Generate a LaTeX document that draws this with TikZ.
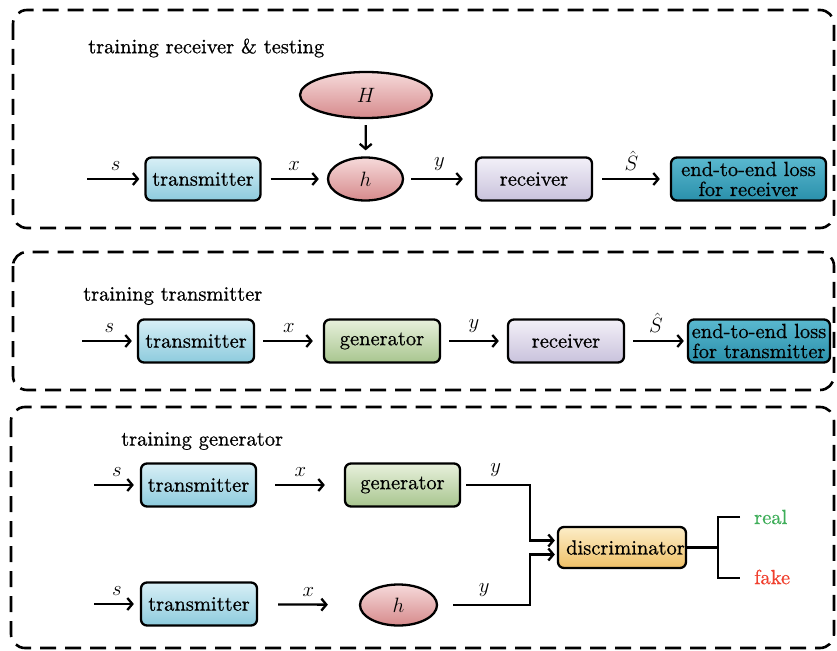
\documentclass[tikz,border=0pt]{standalone}
\usepackage{fontspec}
\setmainfont{lmroman10-regular.otf}[ItalicFont=lmroman10-italic.otf, BoldFont=lmroman10-bold.otf, FakeBold=0.7]
\usetikzlibrary{arrows.meta,shapes.geometric,calc}
\definecolor{txT}{HTML}{D8EFF6}\definecolor{txB}{HTML}{8DCBDD}
\definecolor{rxT}{HTML}{F3F0F8}\definecolor{rxB}{HTML}{C8C2DC}
\definecolor{gnT}{HTML}{E8F0DC}\definecolor{gnB}{HTML}{A8C68F}
\definecolor{elT}{HTML}{F6DADA}\definecolor{elB}{HTML}{D68A8C}
\definecolor{lsT}{HTML}{5AB8CF}\definecolor{lsB}{HTML}{2A90AB}
\definecolor{dsT}{HTML}{FCEDC8}\definecolor{dsB}{HTML}{EFC066}
\definecolor{realc}{HTML}{3FAE5A}\definecolor{fakec}{HTML}{F0402E}
\begin{document}
\begin{tikzpicture}[x=1pt,y=-1pt,
  every node/.style={font=\fontsize{20.5}{20}\selectfont},
  panel/.style={draw, line width=2.6pt, dash pattern=on 16pt off 9pt, rounded corners=14pt},
  box/.style={draw, line width=2.3pt, rounded corners=6pt, minimum height=43pt, inner sep=0pt, align=center},
  txbox/.style={box, minimum width=115pt, top color=txT, bottom color=txB},
  rxbox/.style={box, minimum width=116pt, top color=rxT, bottom color=rxB},
  gnbox/.style={box, minimum width=116pt, top color=gnT, bottom color=gnB},
  lsbox/.style={box, top color=lsT, bottom color=lsB},
  dsbox/.style={box, minimum width=128pt, minimum height=41pt, top color=dsT, bottom color=dsB},
  ell/.style={draw, ellipse, line width=2.3pt, inner sep=0pt, top color=elT, bottom color=elB},
  arr/.style={line width=2.3pt, -{Straight Barb[length=5pt,width=12pt]}},
  wire/.style={line width=2.3pt},
  lab/.style={midway, above=7pt, inner sep=0pt},
  title/.style={anchor=west, inner sep=0pt}
]
\useasboundingbox (0,0) rectangle (837,650);

% panels
\draw[panel] (13,10) rectangle (834,228);
\draw[panel] (13,252) rectangle (834,390);
\draw[panel] (11,407) rectangle (834,648);

% titles
\node[title] (T1) at (88,48) {training receiver \& testing};
\node[title] (T2) at (83,296) {training transmitter};
\node[title] (T3) at (121,441) {training generator};

% ---- row 1
\coordinate (s1) at (87,179);
\node[txbox] (t1) at (203,179) {transmitter};
\node[ell, minimum width=75pt, minimum height=43pt] (h1) at (365.5,179) {$h$};
\node[ell, minimum width=132pt, minimum height=46pt] (H) at (366,95) {$H$};
\node[rxbox] (r1) at (534,179) {receiver};
\node[lsbox, minimum width=155pt] (l1) at (748.5,179) {end-to-end loss\\for receiver};
\draw[arr, shorten >=5pt] (s1) -- node[lab]{$s$} (t1);
\draw[arr, shorten <=9pt, shorten >=8pt] (t1) -- node[lab]{$x$} (h1);
\draw[arr, shorten <=6pt, shorten >=6pt] (H) -- (h1);
\draw[arr, shorten <=7pt, shorten >=12pt] (h1) -- node[lab]{$y$} (r1);
\draw[arr, shorten <=9pt, shorten >=10pt] (r1) -- node[lab]{$\hat{S}$} (l1);

% ---- row 2
\coordinate (s2) at (82,341);
\node[txbox, minimum width=116pt] (t2) at (196,341) {transmitter};
\node[gnbox] (g2) at (382,341) {generator};
\node[rxbox] (r2) at (566,341) {receiver};
\node[lsbox, minimum width=142pt] (l2) at (759,341) {end-to-end loss\\for transmitter};
\draw[arr, shorten >=5pt] (s2) -- node[lab]{$s$} (t2);
\draw[arr, shorten <=8pt, shorten >=10pt] (t2) -- node[lab]{$x$} (g2);
\draw[arr, shorten <=8pt, shorten >=8pt] (g2) -- node[lab]{$y$} (r2);
\draw[arr, shorten <=8pt, shorten >=3pt] (r2) -- node[lab]{$\hat{S}$} (l2);

% ---- row 3
\coordinate (s3a) at (94,485);
\coordinate (s3b) at (94,604);
\node[txbox] (t3a) at (198.5,485) {transmitter};
\node[gnbox, minimum width=115pt] (g3) at (402.5,485) {generator};
\node[txbox, minimum width=116pt] (t3b) at (199,604) {transmitter};
\node[ell, minimum width=77pt, minimum height=41pt] (h3) at (398.5,605) {$h$};
\node[dsbox] (ds) at (622,547.5) {\hspace*{7pt}\makebox[115pt][c]{discriminator}};
\draw[arr, shorten >=6pt] (s3a) -- node[lab]{$s$} (t3a);
\draw[arr, shorten >=6pt] (s3b) -- node[lab]{$s$} (t3b);
\draw[arr, shorten <=18pt, shorten >=19pt] (t3a) -- node[lab]{$x$} (g3);
\draw[arr, shorten <=20pt, shorten >=31pt] (t3b) -- node[lab]{$x$} (h3);

\coordinate (ja) at (530,485);
\coordinate (jb) at (530,605);
\draw[arr, shorten <=5pt, shorten >=2pt] (g3.east) -- node[lab]{$y$} (ja) |- ($(ds.west)+(0,-7)$);
\draw[arr, shorten <=15pt, shorten >=2pt] (h3.east |- jb) -- node[lab]{$y$} (jb) |- ($(ds.west)+(0,7)$);

\coordinate (bj) at (718,547.5);
\coordinate (bt) at (740,517);
\coordinate (bb) at (740,578);
\draw[wire] (ds.east) -- (bj);
\draw[wire] (bt) -| (bj) |- (bb);
\node[text=realc, anchor=west, inner sep=0pt] (real) at (754,517) {real};
\node[text=fakec, anchor=west, inner sep=0pt] (fake) at (754,577) {fake};
\end{tikzpicture}
\end{document}
